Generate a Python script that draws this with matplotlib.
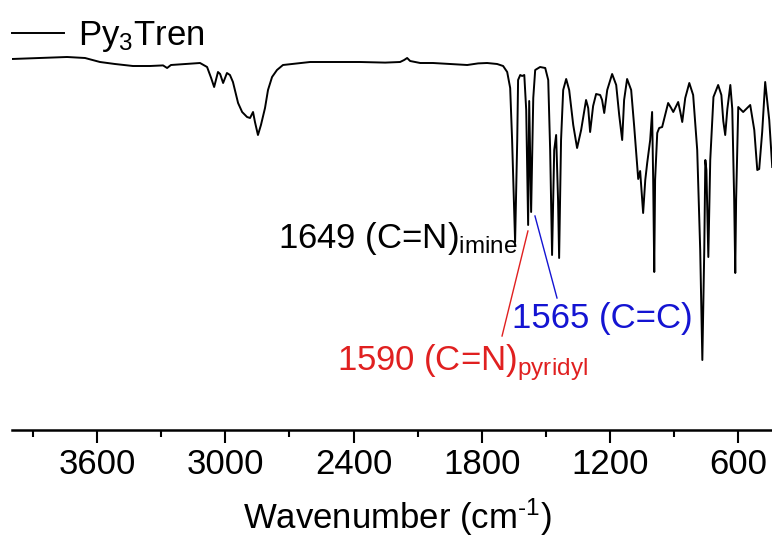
import matplotlib
matplotlib.use("Agg")
import matplotlib.pyplot as plt
from matplotlib.ticker import MultipleLocator

# IR-Spektrum Py3Tren, Werte
wellenzahl = [3998, 3867, 3740, 3656, 3586, 3516, 3432, 3352, 3291, 3272, 3254, 3188,
              3118, 3085, 3066, 3052, 3034, 3024, 3010, 2992, 2978, 2964, 2949, 2940,
              2921, 2898, 2884, 2870, 2861, 2847, 2833, 2814, 2800, 2781, 2758, 2730,
              2603, 2496, 2369, 2252, 2182, 2163, 2149, 2135, 2088, 2028, 1948, 1868,
              1817, 1775, 1728, 1700, 1681, 1667, 1658, 1644, 1634, 1630, 1620, 1611,
              1601, 1592, 1583, 1578, 1569, 1559, 1550, 1527, 1503, 1489, 1480, 1471,
              1461, 1452, 1443, 1438, 1429, 1419, 1405, 1391, 1372, 1354, 1335, 1312,
              1302, 1293, 1279, 1265, 1246, 1237, 1227, 1213, 1190, 1171, 1157, 1143,
              1134, 1120, 1101, 1087, 1068, 1059, 1054, 1045, 1035, 1026, 1012, 1003,
              998, 993, 989, 979, 970, 956, 942, 928, 914, 904, 890, 881,
              871, 862, 848, 829, 811, 792, 778, 768, 759, 754, 749, 740,
              731, 716, 694, 679, 670, 661, 651, 637, 628, 619, 614, 610,
              600, 577, 558, 544, 525, 511, 502, 488, 474, 464, 455, 441]
transmission = [99.5, 99.75, 100, 99.75, 98.75, 98.25, 97.75, 97.75, 97.9, 97.25, 98, 98.25,
                98.5, 97.5, 94.75, 92.5, 96.25, 95.75, 93.5, 96, 95.5, 93.75, 90.5, 88.5,
                86.25, 85, 84.75, 86.25, 83.75, 80.5, 83, 87.25, 91.75, 95, 96.75, 98,
                98.75, 98.75, 98.75, 98.6, 98.75, 99.25, 99.75, 99, 98.5, 98.5, 98.25, 98,
                98.4, 98.5, 98.25, 97.75, 96.25, 92.25, 79.25, 53.75, 79.25, 94.25, 95.5, 95.25,
                95.5, 86.75, 58, 89, 61.25, 89.75, 96.75, 97.5, 97.25, 94.25, 76.75, 50.5,
                76.75, 80.5, 64.25, 49.75, 79.25, 91.75, 94.5, 91.75, 83, 77.25, 81.75, 89.25,
                87.25, 81.25, 87.75, 90.75, 90.5, 89.25, 86, 91.75, 95.75, 93, 85.5, 79.25,
                89.25, 94.5, 91.75, 82.75, 69.5, 71.5, 67.75, 61, 69.25, 73.5, 79.25, 86.25,
                69.25, 46.25, 69.25, 81, 82.25, 82.5, 85.5, 88.5, 87.25, 86.25, 87.75, 88.75,
                86.25, 83.75, 89.75, 93.5, 90.5, 76.75, 51.75, 24.25, 51.75, 74.25, 71.75, 50,
                74.25, 90, 93, 90.5, 84, 80.5, 87, 93, 87, 64.25, 46, 64.25,
                87.5, 86.25, 87.25, 88, 81.75, 71.75, 72, 81.25, 93.75, 88.75, 84.25, 72.5]

SCHRIFT = 25

plt.rcParams['font.family'] = ['Liberation Sans', 'DejaVu Sans']
plt.rcParams['mathtext.default'] = 'regular'
plt.rcParams['font.size'] = SCHRIFT

fig = plt.figure(figsize=(7.72, 5.38), dpi=100)
ax = fig.add_axes([11.5 / 772, 1 - 430 / 538, 769.5 / 772, 430 / 538])

ax.plot(wellenzahl, transmission, color='black', lw=1.4, label='Py$_3$Tren')

ax.set_xlim(4000, 400)
ax.set_ylim(6.75, 114.25)

for s in ['left', 'right', 'top']:
    ax.spines[s].set_visible(False)
ax.spines['bottom'].set_linewidth(1.8)
ax.set_yticks([])

ax.xaxis.set_major_locator(MultipleLocator(600))
ax.xaxis.set_minor_locator(MultipleLocator(300))
ax.tick_params(axis='x', which='major', direction='out', length=9, width=1.5, pad=4, labelsize=SCHRIFT)
ax.tick_params(axis='x', which='minor', direction='out', length=5, width=1.5)

ax.set_xlabel('Wavenumber (cm$^{\u20101}$)', fontsize=SCHRIFT)
ax.xaxis.set_label_coords(0.502, -0.155)

# Beschriftungen der Banden
ax.text(1630, 52.25, '1649 (C=N)$_{imine}$', color='black', ha='right', va='baseline', fontsize=25)
ax.plot([1584, 1705], [56.5, 30.25], color='#e02020', lw=1)
ax.text(2477, 21.75, '1590 (C=N)$_{pyridyl}$', color='#e02020', ha='left', va='baseline', fontsize=25)
ax.plot([1551, 1448], [60.25, 39.75], color='#1414d2', lw=1)
ax.text(1658, 32.25, '1565 (C=C)', color='#1414d2', ha='left', va='baseline', fontsize=25)

ax.legend(loc='upper left', bbox_to_anchor=(12 / 772, 1 - 19 / 538), bbox_transform=fig.transFigure,
          frameon=False, handlelength=1.5, handletextpad=0.4, borderpad=0, borderaxespad=0,
          fontsize=SCHRIFT)

plt.savefig('out.png', dpi=100)
